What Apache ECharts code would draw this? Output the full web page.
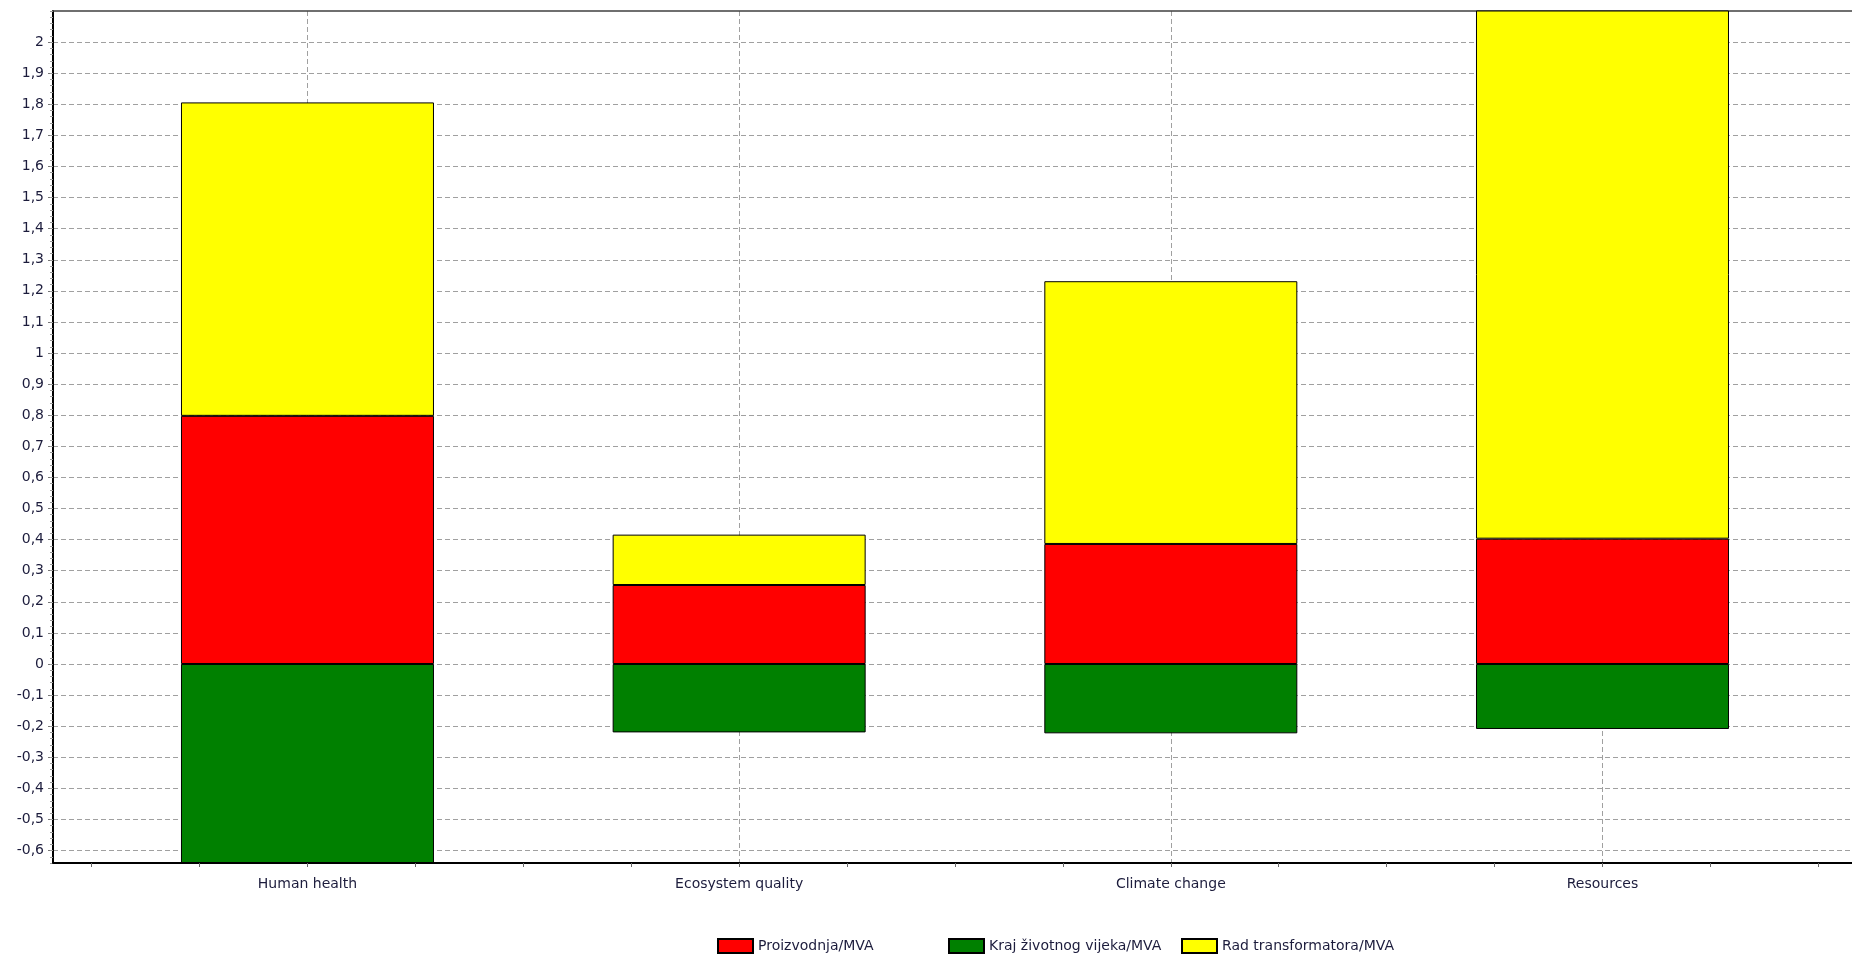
<!DOCTYPE html>
<html>
<head>
<meta charset="utf-8">
<title>Stacked bars</title>
<script src="https://cdn.jsdelivr.net/npm/echarts@6/dist/echarts.min.js"></script>
<style>
    html, body {
        margin: 0;
        padding: 0;
        background: #fff;
    }
    #chart {
        width: 1852px;
        height: 957px;
    }
</style>
</head>
<body>
<div id="chart"></div>
<script>
// data
const categories = ['Human health', 'Ecosystem quality', 'Climate change', 'Resources'];
const seriesNames = ['Proizvodnja/MVA', 'Kraj životnog vijeka/MVA', 'Rad transformatora/MVA'];
const proizvodnja = [0.798, 0.254, 0.386, 0.403];
const krajVijeka = [-0.66, -0.22, -0.223, -0.209];
const radTransformatora = [1.008, 0.162, 0.845, 1.9];
const yTicks = [-0.6, -0.5, -0.4, -0.3, -0.2, -0.1, 0, 0.1, 0.2, 0.3, 0.4, 0.5, 0.6, 0.7,
    0.8, 0.9, 1, 1.1, 1.2, 1.3, 1.4, 1.5, 1.6, 1.7, 1.8, 1.9, 2];

// small ticks between the labelled ones
let yMinorTicks = []
for (let k = -32; k <= 105; k++) yMinorTicks.push(+(k * 0.02).toFixed(2))
let xMinorTicks = []
for (let k = -2; k <= 14; k++) xMinorTicks.push(k * 0.25)
let xCenters = categories.map((c, i) => i)

const font = 'DejaVu Sans'
const textColor = '#1c1c3c'
const xMin = -0.5895, xMax = 3.578
const yMin = -0.64, yMax = 2.1

// plot frame, the bars sit in an inner grid whose bands line up with the frame's x scale
const W = 1852
const plotLeft = 53, plotTop = 11, plotBottom = 94
const unit = (W - plotLeft) / (xMax - xMin)
const barsLeft = plotLeft + (-0.5 - xMin) * unit
const barsRight = W - (plotLeft + (categories.length - 0.5 - xMin) * unit)

let chart = echarts.init(document.getElementById('chart'))

let barStyle = (color) => ({
    color: color,
    borderColor: '#000',
    borderWidth: 1
})

let legendItem = (name, left) => ({
    data: [name],
    left: left,
    top: 938,
    padding: 0,
    itemWidth: 35,
    itemHeight: 14,
    icon: 'rect',
    textStyle: { fontFamily: font, fontSize: 14, color: textColor }
})

let option = {
    animation: false,
    backgroundColor: '#fff',
    grid: [
        { left: plotLeft, top: plotTop, right: 0, bottom: plotBottom },
        { left: barsLeft, top: plotTop, right: barsRight, bottom: plotBottom }
    ],
    legend: [
        legendItem(seriesNames[0], 717),
        legendItem(seriesNames[1], 948),
        legendItem(seriesNames[2], 1181)
    ],
    xAxis: [
        {
            type: 'value',
            gridIndex: 0,
            min: xMin,
            max: xMax,
            position: 'bottom',
            z: 5,
            axisLine: { onZero: false, lineStyle: { color: '#000', width: 2 } },
            axisTick: { customValues: xMinorTicks, length: 4, lineStyle: { color: '#666' } },
            axisLabel: { show: false },
            splitLine: { show: false }
        },
        {
            type: 'value',
            gridIndex: 0,
            min: xMin,
            max: xMax,
            position: 'bottom',
            axisLine: { show: false, onZero: false },
            axisTick: { customValues: xCenters, length: 6, lineStyle: { color: '#999', type: [3, 3] } },
            axisLabel: {
                customValues: xCenters,
                margin: 14,
                fontFamily: font,
                fontSize: 14,
                color: textColor,
                formatter: (v) => categories[Math.round(v)] || ''
            },
            splitLine: { show: true, lineStyle: { color: '#a0a0a0', type: [5, 3] } }
        },
        {
            // top edge of the frame
            type: 'value',
            gridIndex: 0,
            min: xMin,
            max: xMax,
            position: 'top',
            axisLine: { onZero: false, lineStyle: { color: '#404040', width: 1.5 } },
            axisTick: { show: false },
            axisLabel: { show: false },
            splitLine: { show: false }
        },
        {
            type: 'category',
            gridIndex: 1,
            data: categories,
            show: false
        }
    ],
    yAxis: [
        {
            type: 'value',
            gridIndex: 0,
            min: yMin,
            max: yMax,
            position: 'left',
            axisLine: { show: true, onZero: false, lineStyle: { color: '#000', width: 2 } },
            axisTick: { show: true, customValues: yTicks, length: 5, lineStyle: { color: '#777' } },
            axisLabel: {
                customValues: yTicks,
                margin: 9,
                fontFamily: font,
                fontSize: 14,
                color: textColor,
                formatter: (v) => String(v).replace('.', ',')
            },
            splitLine: { show: true, lineStyle: { color: '#a0a0a0', type: [5, 3] } }
        },
        {
            type: 'value',
            gridIndex: 0,
            min: yMin,
            max: yMax,
            position: 'left',
            axisLine: { show: false, onZero: false },
            axisTick: { show: true, customValues: yMinorTicks, length: 3, lineStyle: { color: '#999' } },
            axisLabel: { show: false },
            splitLine: { show: false }
        },
        {
            type: 'value',
            gridIndex: 1,
            min: yMin,
            max: yMax,
            show: false
        }
    ],
    series: [
        {
            name: seriesNames[0],
            type: 'bar',
            xAxisIndex: 3,
            yAxisIndex: 2,
            stack: 'total',
            barWidth: 253,
            itemStyle: barStyle('#ff0000'),
            data: proizvodnja
        },
        {
            name: seriesNames[1],
            type: 'bar',
            xAxisIndex: 3,
            yAxisIndex: 2,
            stack: 'total',
            barWidth: 253,
            itemStyle: barStyle('#008000'),
            data: krajVijeka
        },
        {
            name: seriesNames[2],
            type: 'bar',
            xAxisIndex: 3,
            yAxisIndex: 2,
            stack: 'total',
            barWidth: 253,
            itemStyle: barStyle('#ffff00'),
            data: radTransformatora
        }
    ]
}
chart.setOption(option)
</script>
</body>
</html>
